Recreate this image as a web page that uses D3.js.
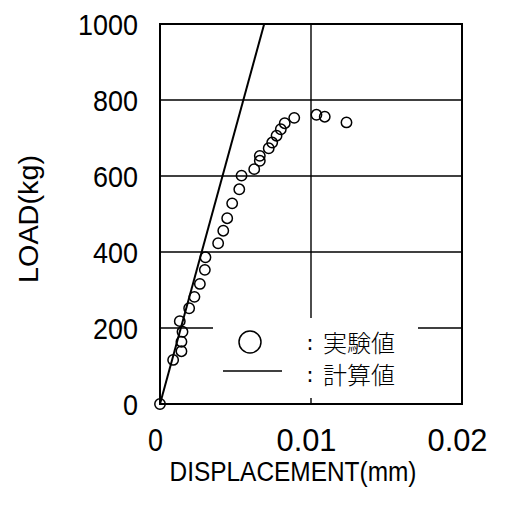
<!DOCTYPE html>
<html>
<head>
<meta charset="utf-8">
<script src="https://cdn.jsdelivr.net/npm/d3@7"></script>
<style>
  body { margin: 0; background: #fff; }
  svg { display: block; }
</style>
</head>
<body>
<svg id="chart"></svg>
<script>
// measured points (displacement mm, load kg)
const dispValues = [0, 0.00087, 0.00142, 0.00142, 0.00149, 0.00131, 0.00193, 0.00228,
  0.00264, 0.00297, 0.00301, 0.00385, 0.00419, 0.00445, 0.00478, 0.00525, 0.00540,
  0.00624, 0.00661, 0.00661, 0.00720, 0.00743, 0.00772, 0.00800, 0.00826, 0.00889,
  0.01036, 0.01091, 0.01235];
const loadValues = [0, 116, 139, 164, 190, 218, 252, 282,
  316, 353, 386, 423, 456, 489, 528, 565, 601,
  618, 640, 653, 673, 688, 706, 723, 739, 753,
  761, 756, 741];

// calculated line
const calcDisp = [0, 0.0069];
const calcLoad = [0, 1000];

const xTicks = [0, 0.01, 0.02];
const xTickLabels = ["0", "0.01", "0.02"];
const yTicks = [0, 200, 400, 600, 800, 1000];

const legendLabels = ["実験値", "計算値"];

const width = 508, height = 507;
const margin = { top: 24, right: 46, bottom: 103, left: 160 };

const svg = d3.select("#chart")
    .attr("width", width)
    .attr("height", height);

const x = d3.scaleLinear().domain([0, 0.02]).range([margin.left, width - margin.right]);
const y = d3.scaleLinear().domain([0, 1000]).range([height - margin.bottom, margin.top]);

const numFont = "'Liberation Sans', Arial, sans-serif";

// grid lines
svg.append("g")
    .selectAll("line")
    .data(yTicks.slice(1, -1))
    .enter().append("line")
    .attr("x1", x(0)).attr("x2", x(0.02))
    .attr("y1", d => y(d)).attr("y2", d => y(d))
    .attr("stroke", "#000").attr("stroke-width", 1.4);

svg.append("line")
    .attr("x1", x(0.01)).attr("x2", x(0.01))
    .attr("y1", y(1000)).attr("y2", y(0))
    .attr("stroke", "#000").attr("stroke-width", 1.4);

// legend box blanks the grid behind it
svg.append("rect")
    .attr("x", 213).attr("y", 318)
    .attr("width", 205).attr("height", 80)
    .attr("fill", "#fff");

// frame
svg.append("rect")
    .attr("x", x(0)).attr("y", y(1000))
    .attr("width", x(0.02) - x(0)).attr("height", y(0) - y(1000))
    .attr("fill", "none").attr("stroke", "#000").attr("stroke-width", 2);

// calculated line (clipped to plot)
svg.append("clipPath").attr("id", "clip")
    .append("rect")
    .attr("x", x(0)).attr("y", y(1000))
    .attr("width", x(0.02) - x(0)).attr("height", y(0) - y(1000));

const calcData = calcDisp.map((d, i) => [d, calcLoad[i]]);
svg.append("path")
    .datum(calcData)
    .attr("clip-path", "url(#clip)")
    .attr("fill", "none").attr("stroke", "#000").attr("stroke-width", 2)
    .attr("d", d3.line().x(d => x(d[0])).y(d => y(d[1])));

// test points
const pts = dispValues.map((d, i) => ({ d: d, load: loadValues[i] }));
svg.append("g")
    .selectAll("circle")
    .data(pts)
    .enter().append("circle")
    .attr("cx", d => x(d.d))
    .attr("cy", d => y(d.load))
    .attr("r", 5.2)
    .attr("fill", "none")
    .attr("stroke", "#000")
    .attr("stroke-width", 1.5);

// axis labels (narrow, tall digits like the original)
const xAxis = svg.append("g")
    .attr("transform", `translate(0,${y(0) + 36})`)
    .call(d3.axisBottom(x).tickValues(xTicks).tickSize(0).tickFormat((d, i) => xTickLabels[i]));
xAxis.select(".domain").remove();
xAxis.selectAll("text")
    .attr("y", 0).attr("dy", "0.36em").attr("dx", -5)
    .attr("textLength", function() { return this.textContent.length * 15; })
    .attr("lengthAdjust", "spacingAndGlyphs")
    .style("font-family", numFont).style("font-size", "31px")
    .attr("fill", "#000");

const yAxis = svg.append("g")
    .attr("transform", `translate(${x(0) - 22},0)`)
    .call(d3.axisLeft(y).tickValues(yTicks).tickSize(0).tickFormat(d3.format("d")));
yAxis.select(".domain").remove();
yAxis.selectAll("text")
    .attr("x", 0).attr("dy", "0.36em")
    .attr("textLength", function() { return this.textContent.length * 15; })
    .attr("lengthAdjust", "spacingAndGlyphs")
    .style("font-family", numFont).style("font-size", "30px")
    .attr("fill", "#000");

// axis titles
svg.append("text")
    .attr("x", 293).attr("y", 481)
    .attr("text-anchor", "middle")
    .attr("textLength", 247).attr("lengthAdjust", "spacingAndGlyphs")
    .style("font-family", numFont).style("font-size", "27px")
    .text("DISPLACEMENT(mm)");

svg.append("text")
    .attr("transform", "translate(38,219) rotate(-90)")
    .attr("text-anchor", "middle")
    .attr("textLength", 128).attr("lengthAdjust", "spacingAndGlyphs")
    .style("font-family", numFont).style("font-size", "28px")
    .text("LOAD(kg)");

// legend
const legend = svg.append("g");
legend.append("circle")
    .attr("cx", 250).attr("cy", 342).attr("r", 11)
    .attr("fill", "none").attr("stroke", "#000").attr("stroke-width", 1.5);
legend.append("line")
    .attr("x1", 223).attr("x2", 282).attr("y1", 371).attr("y2", 371)
    .attr("stroke", "#000").attr("stroke-width", 1.5);
legend.selectAll("text.lab")
    .data(legendLabels)
    .enter().append("text")
    .attr("class", "lab")
    .attr("x", 323)
    .attr("y", (d, i) => 352 + i * 32)
    .style("font-family", "'Noto Sans CJK JP', sans-serif")
    .style("font-size", "24px")
    .style("font-weight", 300)
    .text(d => d);
legend.selectAll("text.colon")
    .data(legendLabels)
    .enter().append("text")
    .attr("class", "colon")
    .attr("x", 310)
    .attr("y", (d, i) => 350 + i * 32)
    .attr("text-anchor", "middle")
    .style("font-family", "'DejaVu Sans', sans-serif")
    .style("font-size", "22px")
    .text(":");
</script>
</body>
</html>
